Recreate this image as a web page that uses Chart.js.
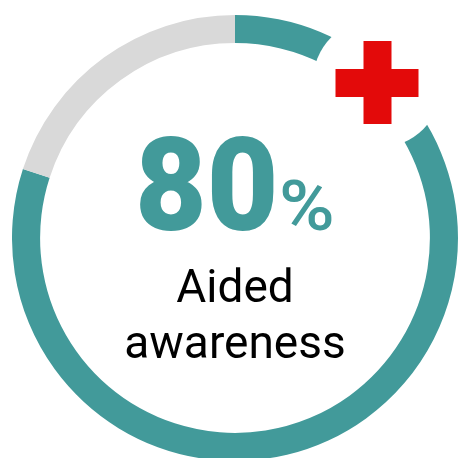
<!DOCTYPE html>
<html>
<head>
<meta charset="utf-8">
<title>Aided awareness</title>
<script src="https://cdn.jsdelivr.net/npm/chart.js@4"></script>
<style>
    html, body { margin: 0; padding: 0; width: 459px; height: 458px; overflow: hidden; background: #fff; }
    #awarenessChart { position: absolute; left: 12px; top: 15px; }
</style>
</head>
<body>
<canvas id="awarenessChart" width="446" height="446" role="img" aria-label="80% aided awareness"></canvas>
<script>
const categories = ["Aware", "Not aware"];
const shareValues = [80, 20];
const sliceColors = ["#429a9a", "#d9d9d9"];
const valueLabel = "80";
const unitLabel = "%";
const captionLines = ["Aided", "awareness"];

// text and the red cross badge, placed relative to the centre of the ring
const centerPlugin = {
    id: "centerContent",
    afterDraw: function (chart) {
        const ctx = chart.ctx;
        const arc = chart.getDatasetMeta(0).data[0];
        const cx = arc.x;
        const cy = arc.y;

        // white disc cutting the ring, then the cross
        const bx = cx + 142.5;
        const by = cy - 155;
        ctx.save();
        ctx.fillStyle = "#fff";
        ctx.beginPath();
        ctx.arc(bx, by, 65, 0, Math.PI * 2);
        ctx.fill();
        ctx.fillStyle = "#e30a0a";
        ctx.fillRect(bx - 42, by - 14, 83, 28);
        ctx.fillRect(bx - 14, by - 42, 28, 83);
        ctx.restore();

        ctx.save();
        ctx.textBaseline = "alphabetic";
        ctx.textAlign = "left";
        ctx.fillStyle = "#429a9a";

        // big number, scaled to the width of the original face
        ctx.save();
        ctx.translate(cx - 100, cy - 8);
        ctx.scale(0.96, 1);
        ctx.font = "900 129px Roboto";
        ctx.fillText(valueLabel, 0, 0);
        ctx.restore();

        ctx.save();
        ctx.translate(cx + 44, cy - 8);
        ctx.scale(1.08, 1);
        ctx.font = "500 70px Roboto";
        ctx.fillText(unitLabel, 0, 0);
        ctx.restore();

        ctx.fillStyle = "#000";
        ctx.textAlign = "center";
        ctx.font = "400 46px Roboto";
        ctx.fillText(captionLines[0], cx, cy + 64);
        ctx.fillText(captionLines[1], cx, cy + 120);
        ctx.restore();
    },
};

new Chart(document.getElementById("awarenessChart").getContext("2d"), {
    type: "doughnut",
    data: {
        labels: categories,
        datasets: [
            {
                data: shareValues,
                backgroundColor: sliceColors,
                borderWidth: 0,
            },
        ],
    },
    options: {
        responsive: false,
        animation: false,
        cutout: "87.4%",
        layout: { padding: 0 },
        plugins: {
            legend: { display: false },
            tooltip: { enabled: false },
        },
    },
    plugins: [centerPlugin],
});
</script>
</body>
</html>
